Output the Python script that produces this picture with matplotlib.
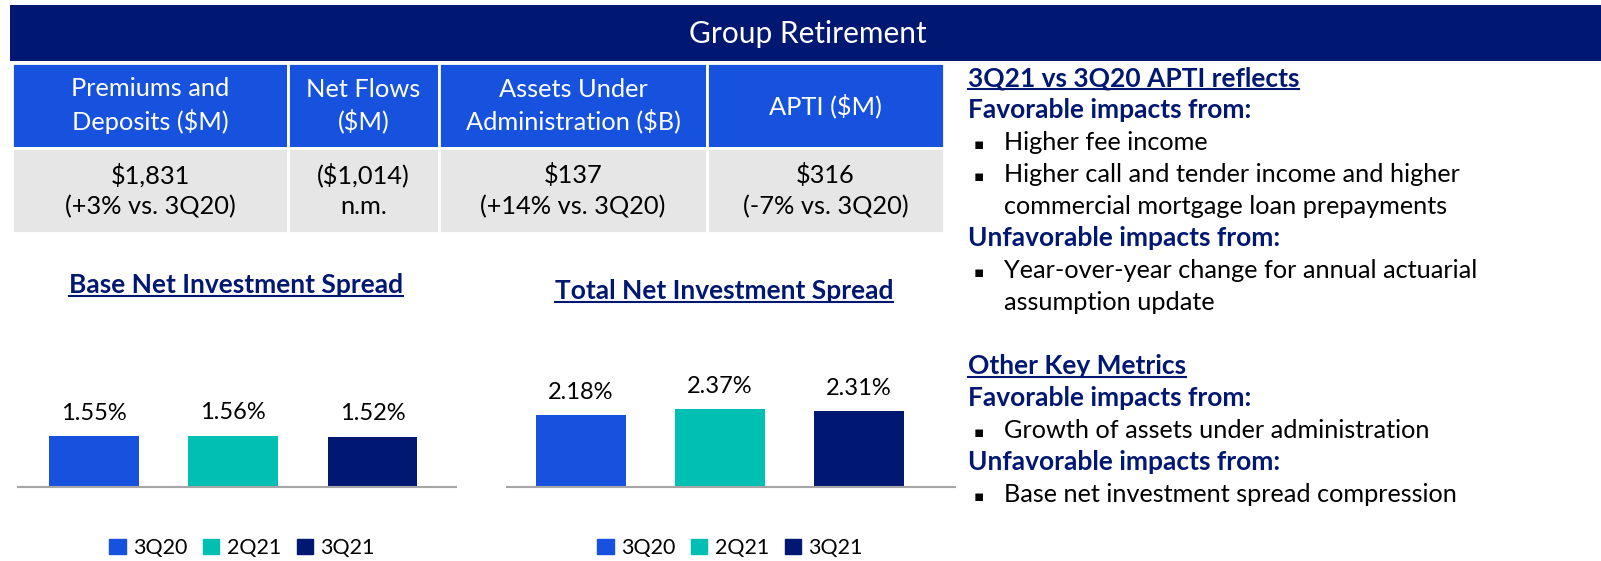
import matplotlib
matplotlib.use("Agg")
import matplotlib.pyplot as plt
from matplotlib.patches import Rectangle

plt.rcParams['text.parse_math'] = False

W, H = 1601, 561
NAVY = "#001871"
BLUE = "#1652DE"
TEAL = "#00BFB3"
GRAY = "#E6E6E6"
FONT = ["Lato", "DejaVu Sans"]

# data
title = "Group Retirement"
col_headers = ["Premiums and\nDeposits ($M)", "Net Flows\n($M)",
               "Assets Under\nAdministration ($B)", "APTI ($M)"]
col_values = ["$1,831\n(+3% vs. 3Q20)", "($1,014)\nn.m.",
              "$137\n(+14% vs. 3Q20)", "$316\n(-7% vs. 3Q20)"]

quarters = ["3Q20", "2Q21", "3Q21"]
base_spread = [1.55, 1.56, 1.52]
total_spread = [2.18, 2.37, 2.31]
bar_colors = [BLUE, TEAL, NAVY]

notes = [
    ("head", "3Q21 vs 3Q20 APTI reflects"),
    ("sub", "Favorable impacts from:"),
    ("bullet", "Higher fee income"),
    ("bullet", "Higher call and tender income and higher"),
    ("cont", "commercial mortgage loan prepayments"),
    ("sub", "Unfavorable impacts from:"),
    ("bullet", "Year-over-year change for annual actuarial"),
    ("cont", "assumption update"),
    ("blank", ""),
    ("head", "Other Key Metrics"),
    ("sub", "Favorable impacts from:"),
    ("bullet", "Growth of assets under administration"),
    ("sub", "Unfavorable impacts from:"),
    ("bullet", "Base net investment spread compression"),
]

fig = plt.figure(figsize=(W / 100, H / 100), dpi=100)
bg = fig.add_axes([0, 0, 1, 1])
bg.set_xlim(0, W)
bg.set_ylim(H, 0)
bg.axis("off")

# header band
bg.add_patch(Rectangle((10, 5), W - 10, 56, facecolor=NAVY, edgecolor="none"))
bg.text(808, 34, title, color="white", fontsize=21.5, family=FONT, ha="center", va="center")

# table
col_w = [276, 151, 268, 237]
tx0, ty0, tx1, ty1 = 12, 63, 944, 233
tbl = bg.table(cellText=[col_values], colLabels=col_headers, cellLoc="center",
               colWidths=[w / sum(col_w) for w in col_w],
               bbox=[tx0 / W, 1 - ty1 / H, (tx1 - tx0) / W, (ty1 - ty0) / H])
tbl.auto_set_font_size(False)
for (r, c), cell in tbl.get_celld().items():
    cell.set_edgecolor("white")
    cell.set_linewidth(2)
    cell.set_facecolor(BLUE if r == 0 else GRAY)
    t = cell.get_text()
    t.set_fontsize(18.3)
    t.set_family(FONT)
    t.set_color("white" if r == 0 else "black")
    t.set_linespacing(1.4)

underlined = []


def px_axes(x0, y0, x1, y1):
    return fig.add_axes([x0 / W, 1 - y1 / H, (x1 - x0) / W, (y1 - y0) / H])


def spread_chart(box, xlim, values, name, title_xy, legend_xy):
    ax = px_axes(*box)
    x = range(len(values))
    bars = ax.bar(x, values, width=0.646, color=bar_colors)
    ax.bar_label(bars, labels=[f"{v:.2f}%" for v in values], padding=9,
                 fontsize=17, family=FONT)
    ax.set_xlim(*xlim)
    ax.set_ylim(0, (box[3] - box[1]) * 0.0304)
    for s in ["top", "left", "right"]:
        ax.spines[s].set_visible(False)
    ax.spines["bottom"].set_color("#A6A6A6")
    ax.spines["bottom"].set_linewidth(1.5)
    ax.set_xticks([])
    ax.set_yticks([])
    ax.patch.set_alpha(0)
    t = bg.text(*title_xy, name, color=NAVY, fontsize=19, fontweight="bold",
                family=FONT, ha="center", va="baseline")
    underlined.append(t)
    handles = [Rectangle((0, 0), 1, 1, color=c) for c in bar_colors]
    ax.legend(handles, quarters, loc="center", ncol=3, frameon=False,
              bbox_to_anchor=(legend_xy[0] / W, 1 - legend_xy[1] / H),
              bbox_transform=fig.transFigure, prop={"family": FONT, "size": 15.5},
              handlelength=0.75, handleheight=0.75, handletextpad=0.33,
              columnspacing=0.75)
    return ax


spread_chart((18, 300, 456, 487), (-0.547, 2.60), base_spread,
             "Base Net Investment Spread", (236, 293), (242, 548))
spread_chart((507, 300, 955, 487), (-0.53, 2.69), total_spread,
             "Total Net Investment Spread", (724, 299), (730, 548))

# commentary on the right
y = 86
for kind, txt in notes:
    if kind in ("head", "sub"):
        t = bg.text(968, y, txt, color=NAVY, fontsize=19, fontweight="bold",
                    family=FONT, va="baseline")
        if kind == "head":
            underlined.append(t)
    elif kind == "bullet":
        bg.text(974, y - 1, "\u25aa", fontsize=11, family=["DejaVu Sans"], va="baseline")
        bg.text(1004, y, txt, fontsize=18.2, family=FONT, va="baseline")
    elif kind == "cont":
        bg.text(1004, y, txt, fontsize=18.2, family=FONT, va="baseline")
    y += 32

fig.canvas.draw()
inv = bg.transData.inverted()
for t in underlined:
    bb = t.get_window_extent()
    (xa, _), (xb, _) = inv.transform([(bb.x0, bb.y0), (bb.x1, bb.y0)])
    yb = t.get_position()[1] + 3
    bg.plot([xa, xb], [yb, yb], color=NAVY, lw=1.5)

fig.savefig("out.png", dpi=100)
